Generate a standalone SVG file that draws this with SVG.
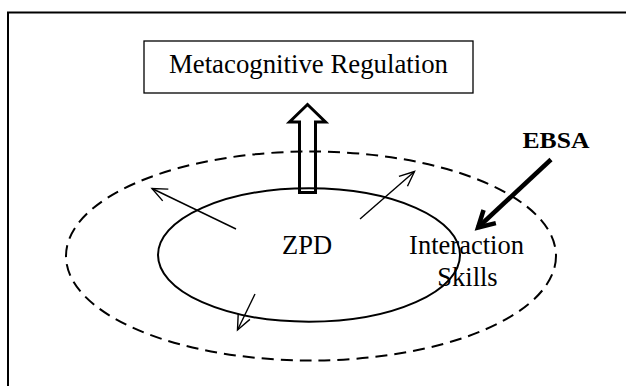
<svg xmlns="http://www.w3.org/2000/svg" width="626" height="386" viewBox="0 0 626 386">
<style>
.t{font-family:"Liberation Serif","Times New Roman",serif;fill:#000}
.thin{stroke:#000;stroke-width:1.4;fill:none}
</style>
<defs>
<marker id="v" markerUnits="userSpaceOnUse" markerWidth="30" markerHeight="30" refX="0" refY="0" viewBox="-20 -15 30 30" orient="auto" overflow="visible">
<path d="M-15,-6.5 L0,0 L-15,6.5" fill="none" stroke="#000" stroke-width="1.4"/>
</marker>
<marker id="vb" markerUnits="userSpaceOnUse" markerWidth="40" markerHeight="40" refX="0" refY="0" viewBox="-25 -20 40 40" orient="auto" overflow="visible">
<path d="M-16,-9 L0,0 L-16,9" fill="none" stroke="#000" stroke-width="4.5" stroke-linejoin="miter"/>
</marker>
</defs>
<rect width="626" height="386" fill="#fff"/>
<rect x="8" y="12.5" width="640" height="400" fill="none" stroke="#000" stroke-width="2"/>
<g id="outer-zone">
<ellipse cx="311" cy="256" rx="245" ry="104.5" fill="none" stroke="#000" stroke-width="2" stroke-dasharray="12 7"/>
</g>
<g id="zpd">
<ellipse cx="309" cy="255" rx="151" ry="66.7" fill="none" stroke="#000" stroke-width="2"/>
<text class="t" x="307" y="254" font-size="26.5" text-anchor="middle">ZPD</text>
</g>
<g id="metacognitive-regulation">
<rect x="144" y="41" width="329" height="52" fill="#fff" stroke="#000" stroke-width="1.3"/>
<text class="t" x="308.5" y="73" font-size="26.8" text-anchor="middle">Metacognitive Regulation</text>
</g>
<g id="interaction-skills">
<text class="t" font-size="26.5" text-anchor="middle"><tspan x="466.5" y="254">Interaction</tspan><tspan x="467.5" y="286">Skills</tspan></text>
</g>
<g id="ebsa">
<text class="t" x="556" y="147.5" font-size="23" font-weight="bold" text-anchor="middle" textLength="67" lengthAdjust="spacingAndGlyphs">EBSA</text>
</g>
<g id="connectors">
<path d="M299.5,192.5 L299.5,122 L289.5,122 L307.5,104.5 L325.5,122 L315.5,122 L315.5,192.5 Z" fill="none" stroke="#000" stroke-width="3" stroke-linejoin="miter"/>
<line class="thin" x1="236" y1="229" x2="152" y2="188.5" marker-end="url(#v)"/>
<line class="thin" x1="360" y1="219" x2="414.5" y2="171.5" marker-end="url(#v)"/>
<line class="thin" x1="255" y1="294" x2="237.5" y2="330" marker-end="url(#v)"/>
<line x1="551" y1="159.5" x2="478" y2="227.5" stroke="#000" stroke-width="4.5" marker-end="url(#vb)"/>
</g>
</svg>
